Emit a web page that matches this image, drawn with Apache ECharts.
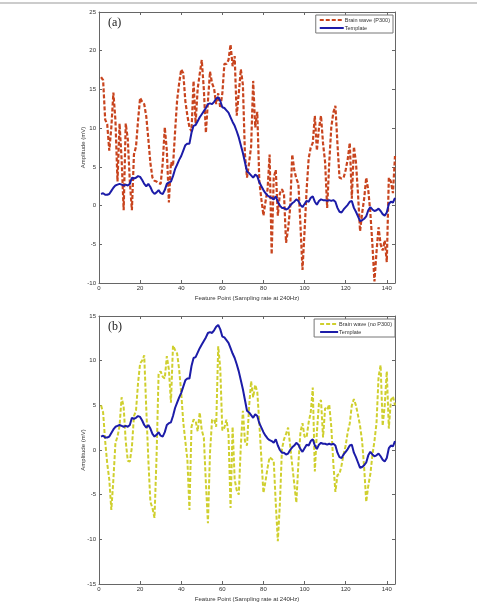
<!DOCTYPE html>
<html lang="en">
<head>
    <meta charset="UTF-8">
    <title>Brain wave vs template</title>
    <style>
        html, body { margin: 0; padding: 0; background: #fff; }
    </style>
</head>
<body>
    <div id="main" style="width:477px; height:603px;"></div>
    <script src="https://cdn.jsdelivr.net/npm/echarts@6/dist/echarts.min.js"></script>
    <script>
        // x ticks (feature points 1..144)
        var xTicks = [0, 20, 40, 60, 80, 100, 120, 140];

        // template (same curve in both panels)
        var template = [
            1.5, 1.6, 1.4, 1.4, 1.5, 1.9, 2.3, 2.6, 2.7, 2.8,
            2.7, 2.6, 2.7, 2.6, 2.8, 3.6, 3.5, 3.6, 3.8, 3.7,
            3.3, 2.8, 2.5, 2.8, 2.4, 1.8, 1.5, 1.7, 2.0, 1.6,
            1.5, 2.0, 2.8, 3.0, 3.1, 3.8, 4.7, 5.3, 5.9, 6.4,
            7.1, 7.8, 8.0, 8.0, 9.4, 10.3, 10.4, 10.9, 11.4, 11.8,
            12.2, 12.6, 13.1, 13.2, 13.1, 13.4, 13.8, 14.0, 13.5, 12.7,
            12.6, 12.3, 12.0, 11.4, 10.8, 10.3, 9.6, 8.8, 7.8, 6.8,
            5.6, 4.4, 4.2, 3.9, 3.6, 4.0, 3.8, 3.0, 2.5, 2.0,
            1.6, 1.3, 1.1, 1.0, 0.8, 1.2, 0.5, 0.0, -0.3, -0.3,
            -0.5, -0.4, 0.0, 0.3, 0.5, 0.8, 0.6, 0.1, -0.2, 0.2,
            0.6, 0.5, 1.0, 1.2, 0.5, 0.1, 0.6, 0.8, 0.7, 0.7,
            0.6, 0.7, 0.6, 0.7, 0.5, -0.3, -0.8, -0.9, -0.5, -0.2,
            0.1, 0.5, 0.6, -0.3, -0.8, -1.4, -2.0, -1.9, -1.7, -1.4,
            -0.6, -0.2, -0.5, -0.7, -0.6, -0.4, -0.7, -1.1, -1.3, -0.9,
            0.2, 0.5, 0.4, 1.0
        ];

        // (a) brain wave with P300
        var waveP300 = [
            16.6, 16.2, 11.1, 10.5, 7.1, 10.1, 14.6, 11.0, 3.1, 10.6,
            6.0, -0.6, 10.6, 8.6, 3.1, -0.6, 6.6, 7.6, 11.0, 13.9,
            13.4, 13.1, 11.5, 8.6, 5.5, 3.6, 3.2, 3.1, 2.9, 2.8,
            5.5, 10.1, 7.1, 0.4, 5.6, 5.1, 9.5, 13.6, 15.8, 17.6,
            17.1, 13.5, 11.6, 10.1, 9.6, 16.1, 10.6, 15.1, 17.0, 18.8,
            15.0, 9.4, 13.5, 17.3, 15.8, 15.1, 13.1, 14.5, 12.6, 14.5,
            18.3, 18.3, 18.8, 20.8, 18.0, 19.3, 11.6, 14.5, 17.6, 15.6,
            6.6, 3.6, 5.5, 7.6, 16.1, 10.1, 12.1, 3.1, 0.8, -1.3,
            0.5, 2.1, 6.6, -6.3, 3.6, 4.6, -1.3, 1.6, 2.1, 1.5,
            -4.8, -3.0, -0.3, 6.6, 4.6, 3.5, 2.8, -2.5, -8.3, -3.3,
            2.0, 6.1, 7.5, 8.1, 11.6, 7.1, 10.0, 11.6, 8.0, 5.6,
            -0.3, 5.5, 10.1, 12.0, 12.9, 8.0, 3.6, 3.5, 3.6, 4.6,
            6.0, 8.1, 0.9, 7.6, 5.6, 1.5, -3.3, -1.0, 0.9, 3.6,
            2.0, -0.9, -5.0, -9.8, -6.0, -2.8, -5.0, -5.8, -4.5, -7.3,
            3.6, 3.1, 1.6, 6.4
        ];

        // (b) brain wave without P300
        var waveNoP300 = [
            5.0, 4.2, 1.0, -1.5, -3.3, -6.7, -3.3, 0.8, 1.5, 2.7,
            5.9, 4.8, 1.0, -1.2, -1.3, 0.3, 3.8, 4.4, 7.5, 9.7,
            10.0, 10.6, 4.6, -1.1, -5.8, -6.5, -7.6, -0.7, 8.6, 8.8,
            8.2, 8.0, 10.5, 9.0, 5.3, 11.7, 11.2, 10.8, 9.0, 6.4,
            3.1, 1.0, -1.1, -6.7, 2.6, 3.4, 3.3, 2.1, 4.2, 2.2,
            1.4, -3.7, -8.2, -0.3, 3.4, 3.4, 2.6, 11.6, 9.1, 2.2,
            2.5, 3.4, 1.8, -6.5, 2.6, -3.3, -4.5, -5.0, 0.5, 4.4,
            1.0, 0.5, 4.8, 7.7, 5.9, 7.3, 6.5, 3.0, -1.0, -4.8,
            -3.5, -2.0, -0.8, -1.0, -1.2, -6.0, -10.2, -6.0, 0.1, 1.2,
            1.8, 2.5, 0.5, -1.7, -3.8, -5.9, -1.5, 2.0, 3.0, 1.5,
            1.4, 3.1, 4.2, 7.0, -2.4, 2.0, 5.2, 5.6, 1.4, 4.7,
            4.5, 5.1, 2.6, -1.5, -4.7, -2.8, -2.7, -1.7, -0.5, 0.5,
            2.0, 3.0, 5.0, 5.7, 5.0, 3.9, 2.7, 1.0, -2.0, -5.8,
            -4.0, -2.7, -0.6, 1.0, 3.0, 8.2, 9.5, 2.7, 5.0, 8.8,
            2.4, 5.6, 6.0, 5.0
        ];

        function pairs(arr) {
            return arr.map(function (v, i) { return [i + 1, v]; });
        }

        var axisColor = '#666';
        var labelColor = '#333';
        var font = 'Liberation Sans, Arial, sans-serif';

        function xAxisPair(gridIndex) {
            return [{
                type: 'value', gridIndex: gridIndex, min: 0, max: 144, interval: 20,
                name: 'Feature Point (Sampling rate at 240Hz)',
                nameLocation: 'middle', nameGap: 12,
                nameTextStyle: { fontSize: 6, color: labelColor, fontFamily: font },
                axisLine: { show: true, onZero: false, lineStyle: { color: axisColor } },
                axisTick: { show: true, inside: true, length: 3, lineStyle: { color: axisColor } },
                axisLabel: {
                    fontSize: 6, color: labelColor, fontFamily: font, margin: 2,
                    formatter: function (v) { return xTicks.indexOf(v) >= 0 ? v : ''; }
                },
                splitLine: { show: false }
            }, {
                type: 'value', gridIndex: gridIndex, position: 'top', min: 0, max: 144, interval: 20,
                axisLine: { show: true, onZero: false, lineStyle: { color: axisColor } },
                axisTick: { show: true, inside: true, length: 3, lineStyle: { color: axisColor } },
                axisLabel: { show: false },
                splitLine: { show: false }
            }];
        }

        function yAxisPair(gridIndex, min, max) {
            return [{
                type: 'value', gridIndex: gridIndex, min: min, max: max, interval: 5,
                name: 'Amplitude (mV)', nameLocation: 'middle', nameGap: 13,
                nameMoveOverlap: false,
                nameTextStyle: { fontSize: 6, color: labelColor, fontFamily: font },
                axisLine: { show: true, onZero: false, lineStyle: { color: axisColor } },
                axisTick: { show: true, inside: true, length: 3, lineStyle: { color: axisColor } },
                axisLabel: { fontSize: 6, color: labelColor, fontFamily: font, margin: 3 },
                splitLine: { show: false }
            }, {
                type: 'value', gridIndex: gridIndex, position: 'right', min: min, max: max, interval: 5,
                axisLine: { show: true, onZero: false, lineStyle: { color: axisColor } },
                axisTick: { show: true, inside: true, length: 3, lineStyle: { color: axisColor } },
                axisLabel: { show: false },
                splitLine: { show: false }
            }];
        }

        var legendBase = {
            orient: 'vertical',
            itemHeight: 6, itemGap: 2,
            borderColor: '#777', borderWidth: 1,
            itemStyle: { opacity: 0, color: 'transparent', borderWidth: 0 },
            textStyle: { fontSize: 5.5, color: labelColor, fontFamily: font, padding: [0, 0, 0, -4] }
        };

        var myChart = echarts.init(document.getElementById('main'));
        myChart.setOption({
            animation: false,
            grid: [
                { left: 99, top: 12, width: 296, height: 271 },
                { left: 99, top: 316, width: 296, height: 271 }
            ],
            xAxis: xAxisPair(0).concat(xAxisPair(1)),
            yAxis: yAxisPair(0, -10, 25).concat(yAxisPair(1, -15, 15)),
            legend: [
                Object.assign({}, legendBase, {
                    data: ['Brain wave (P300)', 'Template'],
                    right: 84, top: 15, itemWidth: 24, padding: [2, 3, 2, 3]
                }),
                Object.assign({}, legendBase, {
                    data: ['Brain wave (no P300)', 'Template'],
                    right: 82, top: 319, itemWidth: 18, padding: [2, 3, 2, 5]
                })
            ],
            graphic: [
                { type: 'line', shape: { x1: 0, y1: 3, x2: 477, y2: 3 }, style: { stroke: '#999', lineWidth: 1 } },
                { type: 'text', left: 108, top: 17, style: { text: '(a)', font: '12px "Liberation Serif", serif', fill: '#222' } },
                { type: 'text', left: 108, top: 321, style: { text: '(b)', font: '12px "Liberation Serif", serif', fill: '#222' } }
            ],
            series: [{
                name: 'Brain wave (P300)', type: 'line', xAxisIndex: 0, yAxisIndex: 0,
                data: pairs(waveP300), showSymbol: false, symbol: 'none',
                lineStyle: { color: '#c8441e', width: 2.2, type: [4, 2] },
                itemStyle: { color: '#c8441e' }
            }, {
                name: 'Template', type: 'line', xAxisIndex: 0, yAxisIndex: 0,
                data: pairs(template), showSymbol: false, symbol: 'none',
                lineStyle: { color: '#1c1ca8', width: 2 },
                itemStyle: { color: '#1c1ca8' }
            }, {
                name: 'Brain wave (no P300)', type: 'line', xAxisIndex: 2, yAxisIndex: 2,
                data: pairs(waveNoP300), showSymbol: false, symbol: 'none',
                lineStyle: { color: '#cfcf2e', width: 2, type: [4, 2] },
                itemStyle: { color: '#cfcf2e' }
            }, {
                name: 'Template', type: 'line', xAxisIndex: 2, yAxisIndex: 2,
                data: pairs(template), showSymbol: false, symbol: 'none',
                lineStyle: { color: '#1c1ca8', width: 2 },
                itemStyle: { color: '#1c1ca8' }
            }]
        });
    </script>
</body>
</html>
